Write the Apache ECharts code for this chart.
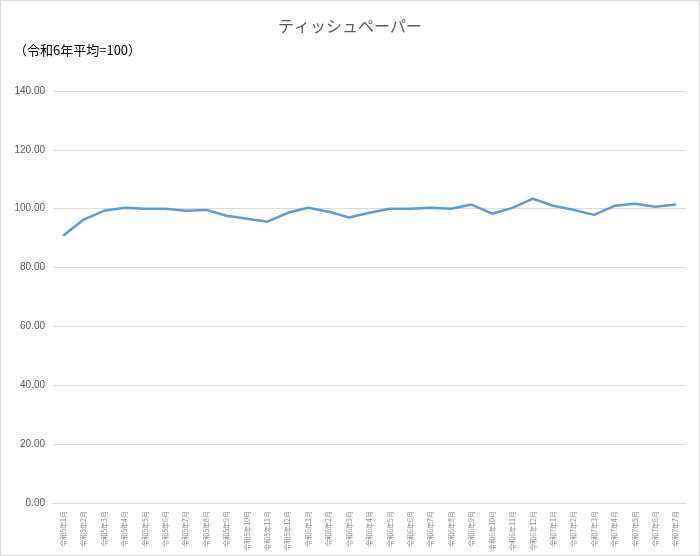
<!DOCTYPE html><html><head><meta charset="utf-8"><script src="https://cdn.jsdelivr.net/npm/echarts@6/dist/echarts.min.js"></script>
<style>body{margin:0}#c{width:700px;height:556px;box-sizing:border-box;border:1px solid #d9d9d9}</style></head><body><div id="c"></div><script>
const categories=[];
for(const [y,n] of [[5,12],[6,12],[7,7]])for(let m=1;m<=n;m++)categories.push('令和'+y+'年'+m+'月');
const values=[90.8,96.3,99.3,100.3,100,100,99.3,99.6,97.6,96.6,95.6,98.6,100.3,99,97,98.6,100,100,100.3,100,101.4,98.3,100.3,103.4,101,99.6,97.9,101,101.7,100.7,101.4];
const c=echarts.init(document.getElementById('c'));
const F='"Noto Sans CJK JP",sans-serif';
c.setOption({
title:[{text:'ティッシュペーパー',left:'center',top:12,textStyle:{fontFamily:F,fontSize:16,fontWeight:'normal',color:'#595959'}},
{text:'（令和6年平均=100）',left:8,top:38,textStyle:{fontFamily:F,fontSize:13,fontWeight:'normal',color:'#000'}}],
grid:{left:52,right:13,top:90,bottom:52},
xAxis:{type:'category',data:categories,boundaryGap:true,axisLine:{lineStyle:{color:'#d9d9d9'}},axisTick:{show:false},
axisLabel:{rotate:90,interval:0,fontSize:7,color:'#8c8c8c',fontFamily:F}},
yAxis:{type:'value',min:0,max:140,interval:20,axisLabel:{formatter:v=>v.toFixed(2),fontSize:10,color:'#595959'},
splitLine:{lineStyle:{color:'#d9d9d9'}},axisLine:{show:false}},
series:[{type:'line',data:values,symbol:'none',lineStyle:{color:'#5b9bd5',width:2.5},itemStyle:{color:'#5b9bd5'}}]
});
</script></body></html>
